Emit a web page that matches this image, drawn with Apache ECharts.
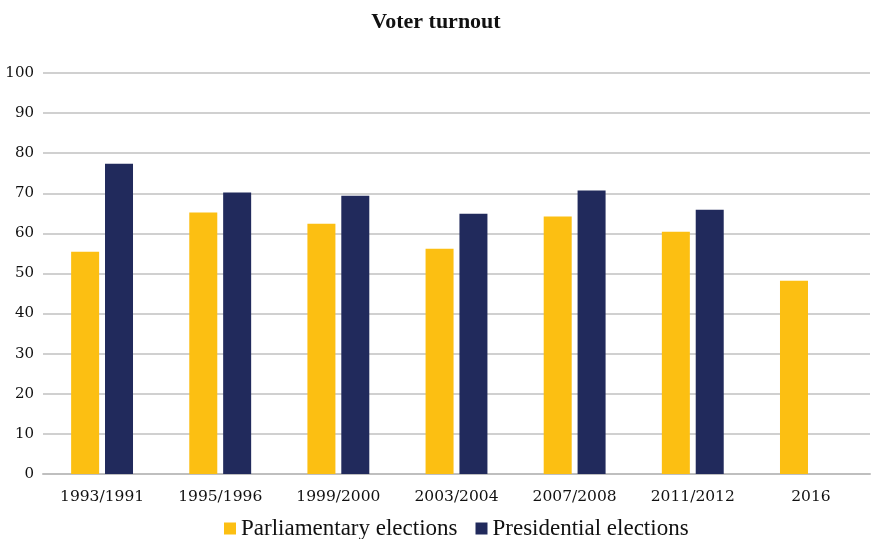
<!DOCTYPE html>
<html><head><meta charset="utf-8">
<script src="https://cdn.jsdelivr.net/npm/echarts@6/dist/echarts.min.js"></script>
<style>html,body{margin:0;padding:0;background:#fff}#c{width:872px;height:539px}</style>
</head><body><div id="c"></div>
<script>
const categories = ['1993/1991','1995/1996','1999/2000','2003/2004','2007/2008','2011/2012','2016'];
const parliamentary = [55.4, 65.2, 62.4, 56.2, 64.2, 60.4, 48.2];
const presidential = [77.4, 70.2, 69.4, 64.9, 70.7, 65.9, null];
const seriesNames = ['Parliamentary elections', 'Presidential elections'];
const serif = 'Liberation Serif, serif';
const wide = 'DejaVu Serif, serif';
const chart = echarts.init(document.getElementById('c'), null, {renderer:'canvas'});
chart.setOption({
  animation: false,
  title: {text: 'Voter turnout', left: 'center', top: 6,
    textStyle: {fontFamily: serif, fontWeight: 'bold', fontSize: 22, color: '#111'}},
  legend: {bottom: -6, left: 219, itemWidth: 12, itemHeight: 12, itemGap: 18,
    icon: 'rect', textStyle: {fontFamily: serif, fontSize: 23, color: '#111'},
    data: seriesNames},
  grid: {left: 43, right: 2, top: 73, bottom: 65},
  xAxis: {type: 'category', data: categories,
    axisLine: {lineStyle: {color: '#bfbfbf', width: 2}},
    axisTick: {show: false},
    axisLabel: {fontFamily: wide, fontSize: 15.5, color: '#111', margin: 15}},
  yAxis: {type: 'value', min: 0, max: 100, interval: 10,
    axisLine: {show: false}, axisTick: {show: false},
    splitLine: {lineStyle: {color: '#c0c0c0', width: 1.5}},
    axisLabel: {fontFamily: wide, fontSize: 15, color: '#111', margin: 9}},
  series: [
    {name: seriesNames[0], type: 'bar', data: parliamentary, barWidth: 28, barGap: '21%',
     itemStyle: {color: '#FCBF12'}},
    {name: seriesNames[1], type: 'bar', data: presidential, barWidth: 28,
     itemStyle: {color: '#212A5C'}}
  ]
});
</script></body></html>
